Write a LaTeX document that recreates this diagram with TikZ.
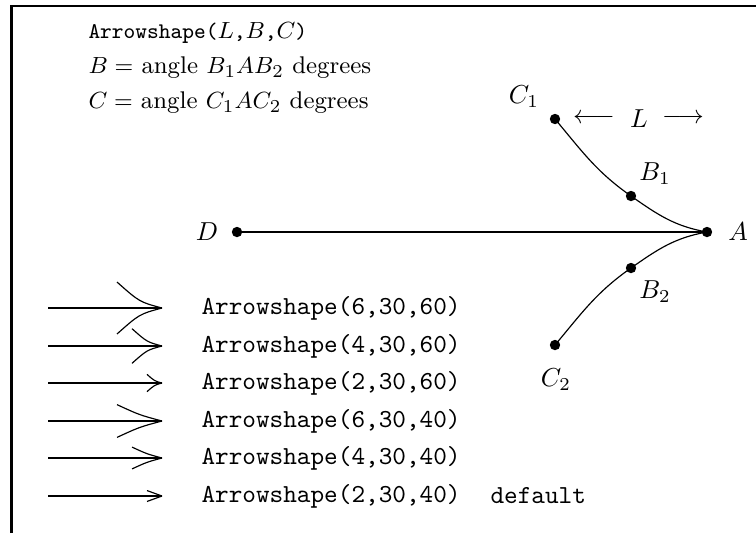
\documentclass[tikz,border=0pt]{standalone}
\begin{document}
\begin{tikzpicture}[x=0.385pt,y=-0.385pt,
  dot/.style={circle,fill=black,inner sep=0pt,minimum size=4pt},
  lbl/.style={inner sep=0pt},
  curveline/.style={line width=0.45pt},
  shaft/.style={line width=0.5pt},
  frame/.style={line width=1.1pt},
  ]
\useasboundingbox (0,0) rectangle (756,533);
% frame (only top and left edges visible)
\coordinate (fb) at (11.7,533);
\coordinate (fc) at (11.7,5.8);
\coordinate (fr) at (756,5.8);
\draw[frame] (fb) -- (fc);
\draw[line width=0.75pt] ([xshift=-0.55pt]fc) -- (fr);

% header text
\node[lbl,anchor=west] (t1) at (88,33) {\fontsize{8.6}{10}\selectfont\texttt{Arrowshape(}$L$\texttt{,}$B$\texttt{,}$C$\texttt{)}};
\node[lbl,anchor=west] (t2) at (88,68) {\fontsize{9.3}{11}\selectfont$B =$ angle $B_1AB_2$ degrees};
\node[lbl,anchor=west] (t3) at (88,103) {\fontsize{9.3}{11}\selectfont$C =$ angle $C_1AC_2$ degrees};

% points
\node[dot] (C1) at (555,119) {};
\node[dot] (B1) at (631,196) {};
\node[dot] (A)  at (707,232) {};
\node[dot] (B2) at (631,268) {};
\node[dot] (C2) at (555,345) {};
\node[dot] (D)  at (237,232) {};

% labels
\node[lbl] (lC1) at (524,97)  {$C_1$};
\node[lbl] (lB1) at (655,174) {$B_1$};
\node[lbl] (lA)  at (738,232) {$A$};
\node[lbl] (lB2) at (655,292) {$B_2$};
\node[lbl] (lC2) at (556,380) {$C_2$};
\node[lbl] (lD)  at (207,232) {$D$};
\node[lbl] (larr) at (594,119) {$\longleftarrow$};
\node[lbl] (lL)   at (639,119) {$L$};
\node[lbl] (rarr) at (683,119) {$\longrightarrow$};

% connectors
\draw[shaft] (D.center) -- (A.center);
\draw[curveline] (C1.center) to[out=-50,in=145] (B1.center) to[out=-35,in=170] (A.center);
\draw[curveline] (C2.center) to[out=50,in=-145] (B2.center) to[out=35,in=-170] (A.center);

% sample arrows
\foreach \y/\L/\C/\txt [count=\i] in {308/6/60/{Arrowshape(6,30,60)},
                                       346/4/60/{Arrowshape(4,30,60)},
                                       383/2/60/{Arrowshape(2,30,60)},
                                       421/6/40/{Arrowshape(6,30,40)},
                                       458/4/40/{Arrowshape(4,30,40)},
                                       496/2/40/{Arrowshape(2,30,40)}}{
  \pgfmathsetmacro{\dx}{7.5*\L}
  \pgfmathsetmacro{\dy}{\dx*tan(\C/2)}
  \pgfmathsetmacro{\qy}{\dx/2*tan(15)}
  \coordinate (s\i) at (48,\y);
  \coordinate (tip\i) at (162,\y);
  \coordinate (qa\i) at (162-\dx/2,\y-\qy);
  \coordinate (ea\i) at (162-\dx,\y-\dy);
  \coordinate (qb\i) at (162-\dx/2,\y+\qy);
  \coordinate (eb\i) at (162-\dx,\y+\dy);
  \draw[shaft] (s\i) -- (tip\i);
  \draw[curveline] (tip\i) .. controls (qa\i) .. (ea\i);
  \draw[curveline] (tip\i) .. controls (qb\i) .. (eb\i);
  \node[lbl,anchor=west] (a\i) at (201,\y) {\ttfamily \txt};
}
\node[lbl,anchor=west] (def) at (490,496) {\ttfamily default};
\end{tikzpicture}
\end{document}
